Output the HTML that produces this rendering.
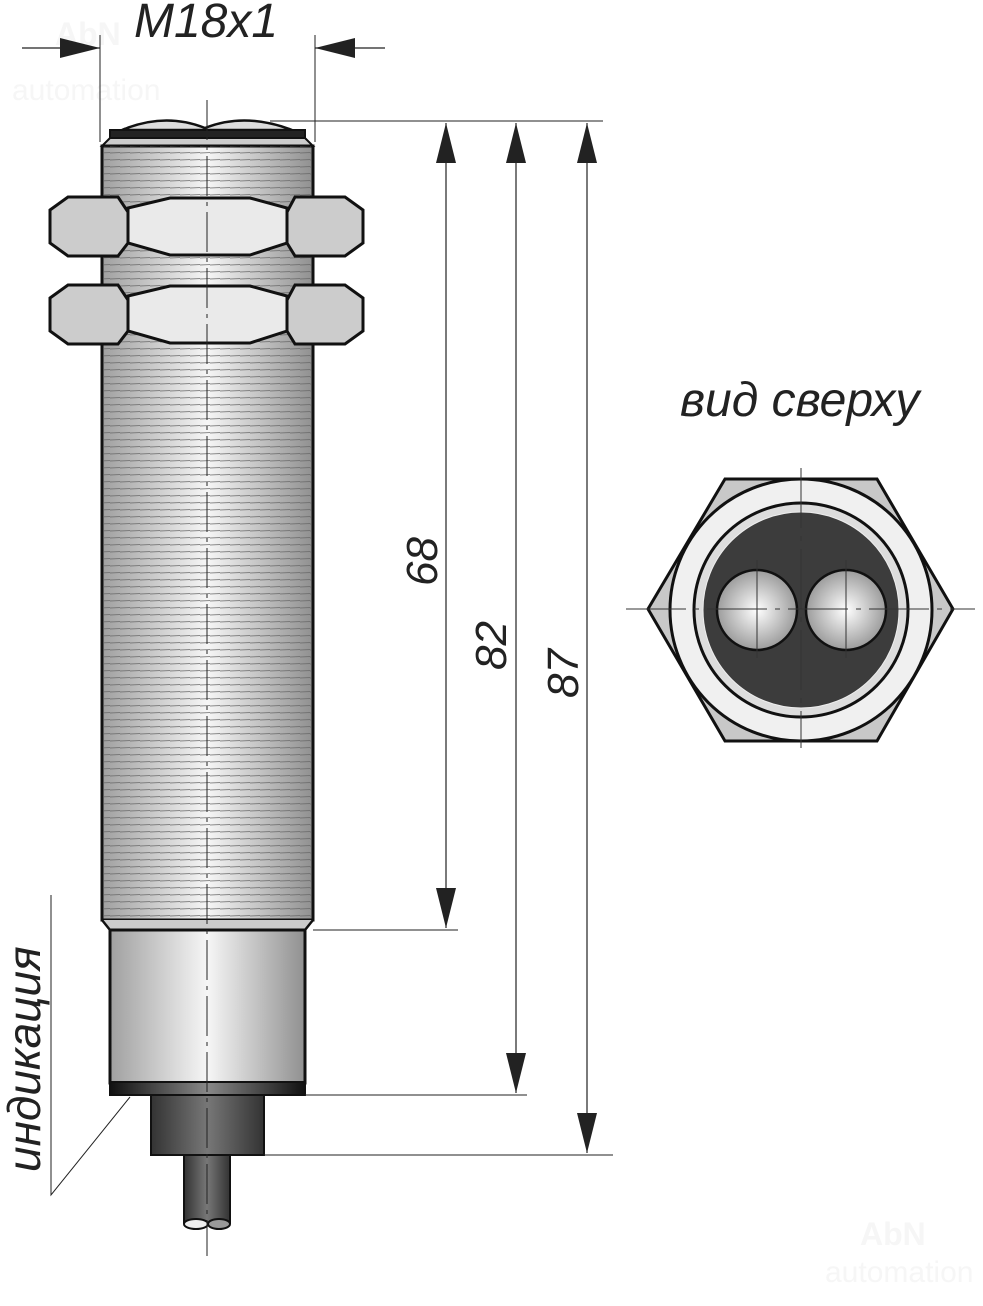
<!DOCTYPE html>
<html><head><meta charset="utf-8"><style>
html,body{margin:0;padding:0;background:#fff}
svg{display:block}
text{font-family:"Liberation Sans",sans-serif;font-style:italic;fill:#222}
</style></head><body>
<svg width="983" height="1306" viewBox="0 0 983 1306" xmlns="http://www.w3.org/2000/svg">
<defs>
<linearGradient id="met" x1="0" x2="1">
<stop offset="0" stop-color="#a0a0a0"/><stop offset="0.5" stop-color="#f6f6f6"/><stop offset="1" stop-color="#909090"/></linearGradient>
<linearGradient id="dk" x1="0" x2="1">
<stop offset="0" stop-color="#333"/><stop offset="0.5" stop-color="#777"/><stop offset="1" stop-color="#333"/></linearGradient>
<linearGradient id="ring" x1="0" x2="1">
<stop offset="0" stop-color="#111"/><stop offset="0.5" stop-color="#888"/><stop offset="1" stop-color="#111"/></linearGradient>
<radialGradient id="ball" cx="0.5" cy="0.5" r="0.6">
<stop offset="0" stop-color="#fff"/><stop offset="1" stop-color="#888"/></radialGradient>
<pattern id="thr" width="10" height="7" patternUnits="userSpaceOnUse">
<line x1="0" y1="6" x2="10" y2="5.6" stroke="#666" stroke-width="0.7"/></pattern>
<marker id="ah" viewBox="0 0 40 20" refX="40" refY="10" markerWidth="40" markerHeight="20" markerUnits="userSpaceOnUse" orient="auto-start-reverse">
<path d="M0,0 L40,10 L0,20z" fill="#222"/></marker>
</defs>
<!-- watermarks -->
<text x="55" y="45" font-size="32" style="fill:#f6f6f6;font-style:normal;font-weight:bold">AbN</text>
<text x="12" y="100" font-size="30" style="fill:#f6f6f6;font-style:normal">automation</text>
<text x="860" y="1245" font-size="32" style="fill:#f6f6f6;font-style:normal;font-weight:bold">AbN</text>
<text x="825" y="1282" font-size="30" style="fill:#f6f6f6;font-style:normal">automation</text>

<!-- M18x1 dim -->
<text x="134" y="37" font-size="48">M18x1</text>
<line x1="22" y1="48" x2="100" y2="48" stroke="#222" stroke-width="1.2" marker-end="url(#ah)"/>
<line x1="385" y1="48" x2="315" y2="48" stroke="#222" stroke-width="1.2" marker-end="url(#ah)"/>
<line x1="100" y1="35" x2="100" y2="142" stroke="#222" stroke-width="1"/>
<line x1="315" y1="35" x2="315" y2="142" stroke="#222" stroke-width="1"/>

<!-- top lens bumps & cap -->
<path d="M122,130 Q165,112 205,128 Q245,112 292,130 Z" fill="#ddd" stroke="#111" stroke-width="2.5"/>
<rect x="110" y="130" width="195" height="8" fill="#222" stroke="#111" stroke-width="2"/>
<path d="M102,146 L110,138 L305,138 L313,146 Z" fill="#ccc" stroke="#111" stroke-width="2"/>

<!-- threaded body -->
<rect x="102" y="146" width="211" height="774" fill="url(#met)" stroke="#111" stroke-width="3"/>
<rect x="104" y="146" width="207" height="774" fill="url(#thr)"/>
<path d="M102,920 L110,930 L305,930 L313,920" fill="#ccc" stroke="#111" stroke-width="2.5"/>

<!-- nuts -->
<g id="nut">
<path d="M105,210 L128,210 L128,243 L105,243 Z" fill="#777"/>
<path d="M287,210 L310,210 L310,243 L287,243 Z" fill="#777"/>
<polygon points="50,210 68,197 118,197 128,212 128,243 118,256 68,256 50,243" fill="#ccc" stroke="#111" stroke-width="3"/>
<polygon points="363,210 345,197 295,197 287,212 287,243 295,256 345,256 363,243" fill="#ccc" stroke="#111" stroke-width="3"/>
<polygon points="128,208 170,198 250,198 287,208 287,243 250,255 170,255 128,243" fill="#eaeaea" stroke="#111" stroke-width="3"/>
</g>
<use href="#nut" transform="translate(0,88)"/>

<!-- lower sleeve -->
<rect x="110" y="930" width="195" height="153" fill="url(#met)" stroke="#111" stroke-width="3"/>
<rect x="110" y="1082" width="195" height="13" fill="url(#ring)" stroke="#111" stroke-width="2"/>
<rect x="151" y="1095" width="113" height="60" fill="url(#dk)" stroke="#111" stroke-width="2"/>
<rect x="184" y="1155" width="46" height="68" fill="url(#dk)" stroke="#111" stroke-width="2"/>
<ellipse cx="219" cy="1224" rx="11" ry="5" fill="#999" stroke="#111" stroke-width="2"/>
<ellipse cx="196" cy="1224" rx="12" ry="5" fill="#eee" stroke="#111" stroke-width="2"/>

<!-- center line -->
<line x1="207" y1="100" x2="207" y2="1256" stroke="#222" stroke-width="1" stroke-dasharray="40,6,4,6"/>

<!-- indication -->
<text transform="translate(40,1172) rotate(-90)" font-size="46">индикация</text>
<polyline points="51,895 51,1195 130,1097" fill="none" stroke="#222" stroke-width="1"/>

<!-- extension lines -->
<g stroke="#222" stroke-width="1">
<line x1="270" y1="121" x2="603" y2="121"/>
<line x1="313" y1="930" x2="458" y2="930"/>
<line x1="305" y1="1095" x2="527" y2="1095"/>
<line x1="264" y1="1155" x2="613" y2="1155"/>
</g>
<g stroke="#222" stroke-width="1.2">
<line x1="446" y1="123" x2="446" y2="928" marker-start="url(#ah)" marker-end="url(#ah)"/>
<line x1="516" y1="123" x2="516" y2="1093" marker-start="url(#ah)" marker-end="url(#ah)"/>
<line x1="587" y1="123" x2="587" y2="1153" marker-start="url(#ah)" marker-end="url(#ah)"/>
</g>
<text transform="translate(437,586) rotate(-90)" font-size="44">68</text>
<text transform="translate(506,670) rotate(-90)" font-size="44">82</text>
<text transform="translate(578,698) rotate(-90)" font-size="44">87</text>

<!-- top view -->
<text x="680" y="416" font-size="48">вид сверху</text>
<polygon points="648,609 725,479 877,479 953,609 877,741 725,741" fill="#c8c8c8" stroke="#111" stroke-width="3"/>
<circle cx="801" cy="610" r="131" fill="#f0f0f0" stroke="#111" stroke-width="3"/>
<circle cx="801" cy="610" r="107" fill="#ddd" stroke="#111" stroke-width="3"/>
<circle cx="801" cy="610" r="98" fill="#3c3c3c" stroke="#eee" stroke-width="1"/>
<circle cx="757" cy="610" r="40" fill="url(#ball)" stroke="#111" stroke-width="2.5"/>
<circle cx="846" cy="610" r="40" fill="url(#ball)" stroke="#111" stroke-width="2.5"/>
<g stroke="#333" stroke-width="1">
<line x1="626" y1="609" x2="975" y2="609" stroke-dasharray="60,8,5,8"/>
<line x1="801" y1="468" x2="801" y2="748" stroke-dasharray="60,8,5,8"/>
<line x1="757" y1="560" x2="757" y2="658"/>
<line x1="846" y1="560" x2="846" y2="658"/>
</g>
</svg>
</body></html>
